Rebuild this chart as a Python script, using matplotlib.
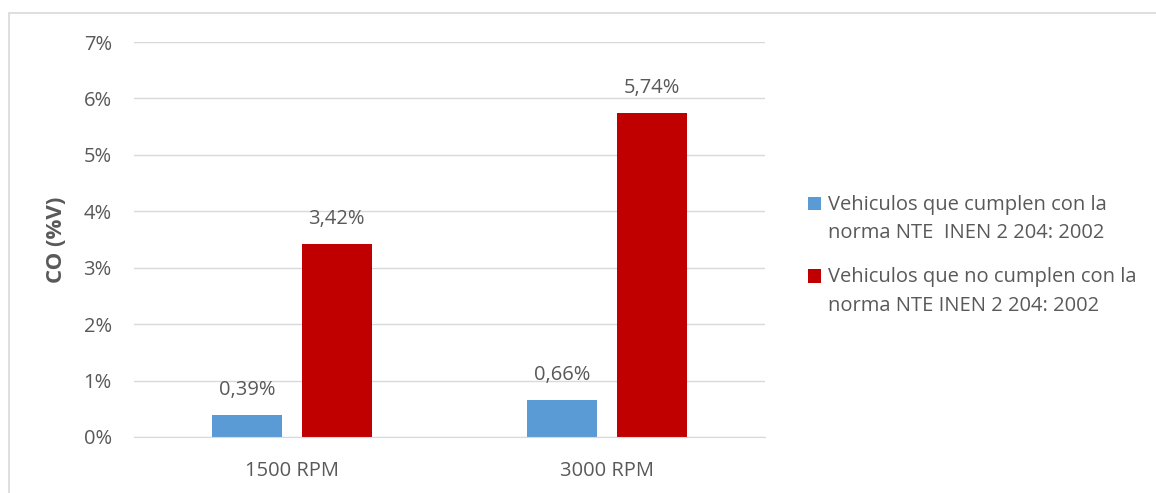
import numpy as np
import matplotlib.pyplot as plt
from matplotlib.patches import Rectangle
from matplotlib.container import BarContainer
from matplotlib.legend_handler import HandlerPatch, update_from_first_child

plt.rcParams['font.family'] = ['Open Sans', 'DejaVu Sans']

categorias = ["1500 RPM", "3000 RPM"]
cumplen = [0.39, 0.66]
no_cumplen = [3.42, 5.74]
serie_1 = "Vehiculos que cumplen con la\nnorma NTE  INEN 2 204: 2002"
serie_2 = "Vehiculos que no cumplen con la\nnorma NTE INEN 2 204: 2002"

gris = "#595959"
azul = "#5b9bd5"
rojo = "#c00000"

fig = plt.figure(figsize=(11.56, 4.93), dpi=100)
ax = fig.add_axes([0.1159, 0.1136, 0.5459, 0.8012])

# marco del grafico
fig.patches.append(Rectangle((9/1156, -0.1), 1.2, 1 - 13/493 + 0.1,
                             transform=fig.transFigure, fill=False,
                             edgecolor="#d9d9d9", linewidth=1.2))

x = np.arange(len(categorias))
ancho = 0.222
b1 = ax.bar(x - 0.142, cumplen, ancho, color=azul, label=serie_1)
b2 = ax.bar(x + 0.142, no_cumplen, ancho, color=rojo, label=serie_2)

for barras, valores in ((b1, cumplen), (b2, no_cumplen)):
    for b, v in zip(barras, valores):
        ax.text(b.get_x() + b.get_width()/2, v + 0.44,
                f"{v:.2f}%".replace(".", ","), ha="center", va="center",
                fontsize=14.5, color=gris)

ax.set_xlim(-0.5, 1.5)
ax.set_ylim(0, 7)
ax.set_yticks(range(8))
ax.set_yticklabels([f"{i}%" for i in range(8)])
ax.set_xticks(x)
ax.set_xticklabels(categorias)
ax.tick_params(axis="both", length=0, labelsize=14.5, colors=gris)
ax.tick_params(axis="y", pad=16)
ax.tick_params(axis="x", pad=17)
ax.grid(axis="y", color="#d9d9d9", linewidth=1)
ax.set_axisbelow(True)
for s in ["top", "right", "left"]:
    ax.spines[s].set_visible(False)
ax.spines["bottom"].set_color("#d9d9d9")

ax.set_ylabel("CO (%V)", fontsize=16, fontweight="bold", color=gris, labelpad=12)


# cuadro de la leyenda alineado con la primera linea del texto
def cuadro_arriba(legend, orig_handle, xdescent, ydescent, width, height, fontsize):
    return Rectangle((-xdescent, -ydescent + 0.8 * fontsize), width, height)


leg = ax.legend(loc="center left", bbox_to_anchor=(1.039, 0.46), frameon=False,
                fontsize=14.5, labelcolor=gris, handlelength=0.65, handleheight=0.65,
                handletextpad=0.35, labelspacing=1.2,
                handler_map={BarContainer: HandlerPatch(patch_func=cuadro_arriba,
                                                        update_func=update_from_first_child)})
for t in leg.get_texts():
    t.set_linespacing(1.55)

fig.savefig("out.png", dpi=100)
